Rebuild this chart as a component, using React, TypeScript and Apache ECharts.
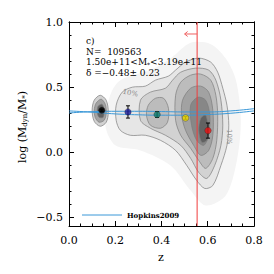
import React, { useEffect, useRef } from "react";
import * as echarts from "echarts";

// ---------- data ----------
const xTicks = [0, 0.2, 0.4, 0.6, 0.8];
const yTicks = [-0.5, 0, 0.5, 1.0];
const yMinorTicks = [-0.4, -0.3, -0.2, -0.1, 0.1, 0.2, 0.3, 0.4, 0.6, 0.7, 0.8, 0.9];

// binned points
const pointZ = [0.142, 0.255, 0.381, 0.504, 0.601];
const pointV = [0.323, 0.31, 0.29, 0.264, 0.167];
const pointErr = [0.008, 0.047, 0.022, 0.01, 0.058];
const pointColors = ["#000000", "#1c1c96", "#0c7a6c", "#f0dc00", "#ee1111"];

// Hopkins2009 curves
const hopZ = [0, 0.1, 0.2, 0.3, 0.4, 0.5, 0.6, 0.7, 0.8];
const hopUpper = [0.302, 0.312, 0.315, 0.315, 0.313, 0.31, 0.31, 0.318, 0.335];
const hopLower = [0.318, 0.308, 0.295, 0.288, 0.285, 0.285, 0.29, 0.3, 0.318];

// vertical redshift limit and arrow
const zLimit = 0.554;
const arrowShaft = [[0.554, 0.908], [0.5, 0.908]];
const arrowHead = [[0.513, 0.927], [0.5, 0.908], [0.513, 0.889]];

// density contours [z, log ratio]
const haze = [[0.178, 0.438], [0.222, 0.554], [0.352, 0.631], [0.439, 0.72], [0.526, 0.84], [0.613, 0.83], [0.678, 0.72], [0.722, 0.554], [0.743, 0.246], [0.726, -0.062], [0.678, -0.331], [0.591, -0.408], [0.526, -0.292], [0.439, -0.1], [0.309, 0.015], [0.2, 0.054], [0.157, 0.208]];
const outer = [[0.204, 0.362], [0.23, 0.462], [0.274, 0.5], [0.33, 0.508], [0.374, 0.554], [0.43, 0.585], [0.461, 0.631], [0.504, 0.692], [0.561, 0.723], [0.613, 0.692], [0.643, 0.615], [0.665, 0.492], [0.683, 0.362], [0.691, 0.208], [0.683, 0.054], [0.657, -0.1], [0.622, -0.254], [0.587, -0.277], [0.552, -0.215], [0.509, -0.1], [0.461, 0.015], [0.396, 0.092], [0.33, 0.131], [0.265, 0.131], [0.222, 0.169], [0.204, 0.246]];
const mid2 = [[0.309, 0.4], [0.352, 0.462], [0.417, 0.492], [0.448, 0.554], [0.483, 0.615], [0.548, 0.646], [0.604, 0.631], [0.635, 0.554], [0.657, 0.4], [0.665, 0.208], [0.657, 0.054], [0.63, -0.1], [0.596, -0.2], [0.561, -0.154], [0.526, -0.046], [0.483, 0.054], [0.417, 0.131], [0.352, 0.185], [0.309, 0.246]];
const teal3 = [[0.343, 0.362], [0.374, 0.415], [0.409, 0.415], [0.43, 0.338], [0.426, 0.231], [0.396, 0.185], [0.352, 0.208], [0.335, 0.285]];
const mid3 = [[0.461, 0.438], [0.483, 0.538], [0.526, 0.592], [0.57, 0.6], [0.613, 0.554], [0.635, 0.438], [0.643, 0.285], [0.639, 0.092], [0.622, -0.046], [0.591, -0.123], [0.561, -0.062], [0.526, 0.031], [0.483, 0.131], [0.461, 0.246]];
const core4 = [[0.491, 0.4], [0.526, 0.492], [0.57, 0.508], [0.604, 0.462], [0.622, 0.323], [0.622, 0.131], [0.604, 0.015], [0.57, -0.023], [0.539, 0.054], [0.504, 0.169], [0.487, 0.285]];
const core5 = [[0.526, 0.362], [0.557, 0.423], [0.591, 0.4], [0.609, 0.285], [0.604, 0.131], [0.583, 0.054], [0.552, 0.092], [0.53, 0.208]];
const core6 = [[0.57, 0.262], [0.591, 0.285], [0.6, 0.208], [0.596, 0.092], [0.574, 0.077], [0.561, 0.169]];
const black1 = [[0.109, 0.4], [0.135, 0.438], [0.161, 0.4], [0.17, 0.308], [0.161, 0.231], [0.135, 0.2], [0.109, 0.238], [0.1, 0.323]];
const black2 = [[0.117, 0.377], [0.139, 0.408], [0.157, 0.369], [0.161, 0.3], [0.152, 0.246], [0.13, 0.231], [0.113, 0.269], [0.109, 0.323]];
const black3 = [[0.126, 0.354], [0.143, 0.369], [0.152, 0.323], [0.148, 0.269], [0.13, 0.269], [0.122, 0.308]];

const contourShapes = [haze, outer, black1, mid2, black2, teal3, mid3, core4, black3, core5, core6];
const contourLevels = [0, 1, 2, 2, 4, 3, 3, 4, 6, 5, 6];
const levelFills = ["#f4f4f4", "#e6e6e6", "#d2d2d2", "#bcbcbc", "#a2a2a2", "#878787", "#626262"];

const contourLabelText = ["10%", "10%"];
const contourLabelPos = [[0.265, 0.454], [0.69, 0.12]];
const contourLabelRot = [-0.2, -Math.PI / 2];

const SERIF = "DejaVu Serif";

export default function App() {
  const ref = useRef<HTMLDivElement>(null);
  useEffect(() => {
    if (!ref.current) return;
    const chart = echarts.init(ref.current, undefined, { renderer: "svg" });
    const fmt = (v: number) => v.toFixed(1).replace("-", "\u2212");
    const baseAxis: any = {
      type: "value",
      axisLine: { show: true, onZero: false, lineStyle: { color: "#000", width: 1 } },
      splitLine: { show: false },
      minorSplitLine: { show: false },
    };
    const yMin = -0.565;
    const yMax = 1.0;
    const xAxisCfg = (pos: string, labels: boolean) => ({
      ...baseAxis,
      min: xTicks[0],
      max: xTicks[xTicks.length - 1],
      interval: 0.2,
      position: pos,
      axisTick: { show: true, inside: true, length: 5, lineStyle: { color: "#000" } },
      minorTick: { show: true, splitNumber: 4, length: 2.5, lineStyle: { color: "#000" } },
      axisLabel: labels
        ? { show: true, fontFamily: SERIF, fontSize: 11, color: "#000", margin: 9, formatter: fmt }
        : { show: false },
    });
    const yAxisCfg = (pos: string, ticks: number[], len: number, labels: boolean) => ({
      ...baseAxis,
      min: yMin,
      max: yMax,
      position: pos,
      axisTick: { show: true, inside: true, length: len, customValues: ticks, lineStyle: { color: "#000" } },
      axisLabel: labels
        ? { show: true, customValues: ticks, fontFamily: SERIF, fontSize: 11, color: "#000", margin: 6, formatter: fmt }
        : { show: false },
    });

    const option: any = {
      animation: false,
      backgroundColor: "#fff",
      grid: { left: 69, right: 20, top: 22, bottom: 48, containLabel: false },
      xAxis: [xAxisCfg("bottom", true), xAxisCfg("top", false)],
      yAxis: [
        yAxisCfg("left", yTicks, 5, true),
        yAxisCfg("right", yTicks, 5, false),
        yAxisCfg("left", yMinorTicks, 2.5, false),
        yAxisCfg("right", yMinorTicks, 2.5, false),
      ],
      series: [
        {
          type: "custom",
          name: "density",
          clip: true,
          z: 1,
          data: contourShapes.map((s, i) => [s[0][0], s[0][1], i]),
          renderItem: (params: any, api: any) => {
            const i = params.dataIndex;
            const pts = contourShapes[i].map((p) => api.coord(p));
            const lvl = contourLevels[i];
            return {
              type: "polygon",
              shape: { points: pts, smooth: 0.3 },
              style: {
                fill: levelFills[lvl],
                stroke: lvl === 0 ? "none" : "#7d7d7d",
                lineWidth: 0.7,
              },
            };
          },
        },
        {
          type: "custom",
          name: "contourLabels",
          z: 2,
          data: contourLabelPos.map((p, i) => [p[0], p[1], i]),
          renderItem: (params: any, api: any) => {
            const i = params.dataIndex;
            const c = api.coord(contourLabelPos[i]);
            return {
              type: "text",
              x: c[0],
              y: c[1],
              rotation: contourLabelRot[i],
              style: {
                text: contourLabelText[i],
                fontFamily: SERIF,
                fontSize: 7,
                fill: "#8a8a8a",
                align: "center",
                verticalAlign: "middle",
              },
            };
          },
        },
        {
          type: "line",
          name: "Hopkins2009 a",
          z: 3,
          showSymbol: false,
          symbol: "none",
          smooth: true,
          data: hopZ.map((z, i) => [z, hopUpper[i]]),
          lineStyle: { color: "#3a98d8", width: 1 },
        },
        {
          type: "line",
          name: "Hopkins2009 b",
          z: 3,
          showSymbol: false,
          symbol: "none",
          smooth: true,
          data: hopZ.map((z, i) => [z, hopLower[i]]),
          lineStyle: { color: "#3a98d8", width: 1 },
        },
        {
          type: "line",
          name: "zlimit",
          z: 4,
          symbol: "none",
          data: [[zLimit, yMin], [zLimit, yMax]],
          lineStyle: { color: "#f03c3c", width: 1 },
        },
        {
          type: "line",
          name: "arrowShaft",
          z: 4,
          symbol: "none",
          data: arrowShaft,
          lineStyle: { color: "#f06060", width: 1 },
        },
        {
          type: "line",
          name: "arrowHead",
          z: 4,
          symbol: "none",
          data: arrowHead,
          lineStyle: { color: "#f06060", width: 1 },
        },
        {
          type: "custom",
          name: "errors",
          z: 5,
          data: pointZ.map((z, i) => [z, pointV[i], pointErr[i]]),
          renderItem: (params: any, api: any) => {
            const z = api.value(0);
            const v = api.value(1);
            const e = api.value(2);
            const top = api.coord([z, v + e]);
            const bot = api.coord([z, v - e]);
            const cap = 2;
            return {
              type: "group",
              children: [
                { type: "line", shape: { x1: top[0], y1: top[1], x2: bot[0], y2: bot[1] }, style: { stroke: "#000", lineWidth: 1 } },
                { type: "line", shape: { x1: top[0] - cap, y1: top[1], x2: top[0] + cap, y2: top[1] }, style: { stroke: "#000", lineWidth: 1 } },
                { type: "line", shape: { x1: bot[0] - cap, y1: bot[1], x2: bot[0] + cap, y2: bot[1] }, style: { stroke: "#000", lineWidth: 1 } },
              ],
            };
          },
        },
        {
          type: "scatter",
          name: "bins",
          z: 6,
          symbolSize: 6.5,
          data: pointZ.map((z, i) => ({
            value: [z, pointV[i]],
            itemStyle: { color: pointColors[i], borderColor: "#222", borderWidth: 0.4 },
          })),
        },
      ],
      graphic: [
        {
          type: "text",
          z: 100,
          x: 22,
          y: 127,
          rotation: Math.PI / 2,
          style: {
            text: "log (M{sub|dyn}/M{sub|*})",
            fontFamily: SERIF,
            fontSize: 11,
            fill: "#000",
            align: "center",
            verticalAlign: "middle",
            rich: {
              sub: { fontFamily: SERIF, fontSize: 7, fill: "#000", verticalAlign: "bottom", padding: [5, 0, 0, 0] },
            },
          },
        },
        {
          type: "text",
          z: 100,
          x: 161,
          y: 257,
          style: { text: "z", fontFamily: SERIF, fontSize: 11, fill: "#000", align: "center", verticalAlign: "middle" },
        },
        { type: "text", z: 100, x: 86, y: 41, style: { text: "c)", fontFamily: SERIF, fontSize: 9, fill: "#000", verticalAlign: "middle" } },
        { type: "text", z: 100, x: 86, y: 51.5, style: { text: "N=  109563", fontFamily: SERIF, fontSize: 9, fill: "#000", verticalAlign: "middle" } },
        {
          type: "text",
          z: 100,
          x: 86,
          y: 62,
          style: {
            text: "1.50e+11<M{sub|*}<3.19e+11",
            fontFamily: SERIF,
            fontSize: 9,
            fill: "#000",
            verticalAlign: "middle",
            rich: { sub: { fontFamily: SERIF, fontSize: 6, fill: "#000", verticalAlign: "bottom", padding: [4, 0, 0, 0] } },
          },
        },
        { type: "text", z: 100, x: 86, y: 72.5, style: { text: "\u03b4 =\u22120.48\u00b1 0.23", fontFamily: SERIF, fontSize: 9, fill: "#000", verticalAlign: "middle" } },
        { type: "line", z: 100, shape: { x1: 82, y1: 215, x2: 122, y2: 215 }, style: { stroke: "#3a98d8", lineWidth: 1 } },
        {
          type: "text",
          z: 100,
          x: 127,
          y: 215,
          style: { text: "Hopkins2009", fontFamily: SERIF, fontWeight: "bold", fontSize: 7, fill: "#000", verticalAlign: "middle" },
        },
      ],
    };
    chart.setOption(option);
    return () => chart.dispose();
  }, []);
  return <div ref={ref} style={{ width: 274, height: 274, position: "absolute", left: 0, top: 0 }} />;
}
